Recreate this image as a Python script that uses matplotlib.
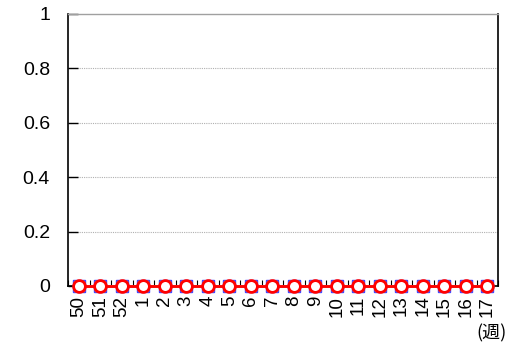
import matplotlib
matplotlib.use("Agg")
import matplotlib.pyplot as plt
import numpy as np

weeks = ["50", "51", "52"] + [str(i) for i in range(1, 18)]
series_blue = [0] * len(weeks)
series_tan = [0] * len(weeks)
series_red = [0] * len(weeks)
yticks = [0, 0.2, 0.4, 0.6, 0.8, 1]
ytick_labels = ["0", "0.2", "0.4", "0.6", "0.8", "1"]

plt.rcParams['font.family'] = ['Liberation Sans', 'Noto Sans CJK JP', 'DejaVu Sans']

fig = plt.figure(figsize=(5.09, 3.44), dpi=100)
ax = fig.add_axes([68/509, 1-286/344, (498-68)/509, (286-14)/344])

x = np.arange(len(weeks))
ax.plot(x, series_blue, color='#4040ff', marker='s', markersize=8, lw=2,
        markerfacecolor='#8080ff', markeredgecolor='#4040ff', zorder=3, clip_on=False)
ax.plot(x, series_tan, color='#c8a070', marker='s', markersize=7, lw=2,
        markerfacecolor='#d8b890', markeredgecolor='#c8a070', zorder=4, clip_on=False)
ax.plot(x, series_red, color='#ff0000', marker='o', markersize=8.5, lw=2,
        markerfacecolor='white', markeredgecolor='#ff0000', markeredgewidth=2, zorder=5,
        clip_on=False)

ax.set_xlim(-0.5, len(weeks) - 0.5)
ax.set_ylim(0, 1)
ax.set_yticks(yticks)
ax.set_yticklabels(ytick_labels, fontsize=14)
ax.set_xticks(x)
ax.set_xticklabels(weeks, rotation=90, fontsize=13.5)
ax.set_xticks(np.arange(len(weeks) + 1) - 0.5, minor=True)
ax.tick_params(axis='x', which='major', length=0, pad=7)
ax.tick_params(axis='x', which='minor', direction='in', length=4, width=0.8, color='black')
ax.tick_params(axis='y', direction='in', length=7, width=1, pad=13)

for yv in yticks[1:-1]:
    ax.axhline(yv, color='#b0b0b0', lw=0.8, ls=(0, (1, 1)), zorder=1)

for s in ['left', 'bottom', 'right']:
    ax.spines[s].set_color('black')
    ax.spines[s].set_linewidth(1.2)
ax.spines['top'].set_color('#a0a0a0')
ax.spines['top'].set_linewidth(1)

fig.text(507/509, 1-342/344, "(週)", ha='right', va='bottom', fontsize=13,
         family=['Noto Sans CJK JP', 'DejaVu Sans'])

fig.savefig("out.png", dpi=100)
